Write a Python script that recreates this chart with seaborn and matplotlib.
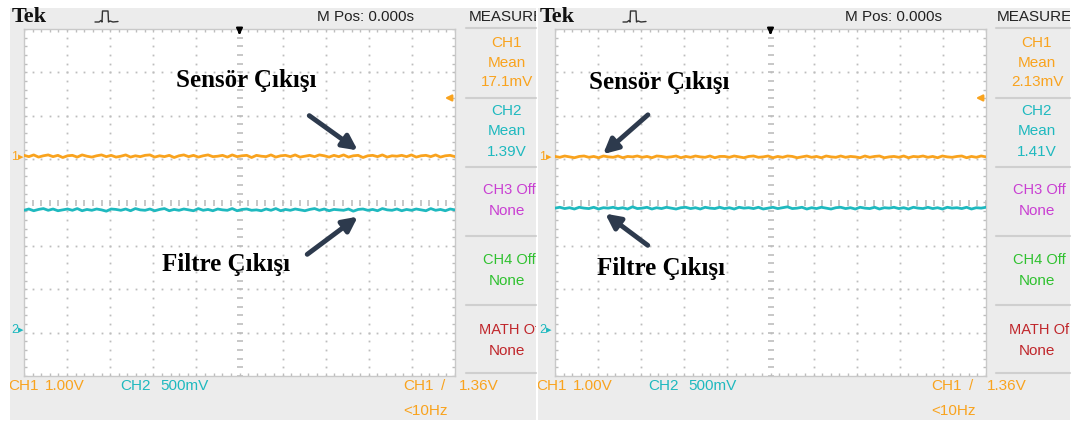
import numpy as np
import pandas as pd
import seaborn as sns
import matplotlib
matplotlib.use("Agg")
import matplotlib.pyplot as plt
from matplotlib import font_manager as fm
from matplotlib.patches import Rectangle, FancyArrowPatch
from matplotlib.lines import Line2D

# ---------------- data ----------------
ch1_mean_text = ["17.1mV", "2.13mV"]
ch2_mean_text = ["1.39V", "1.41V"]
ch1_mean_volts = [0.0171, 0.00213]
ch2_mean_volts = [1.39, 1.41]
ch1_scale_text = "1.00V"
ch2_scale_text = "500mV"
ch1_volts_per_div = 1.0
ch2_volts_per_div = 0.5
trigger_level_text = "1.36V"
trigger_level_volts = 1.36
trigger_freq_text = "<10Hz"
mpos_text = "M Pos: 0.000s"
ch1_ground_div = [1.05, 1.05]
ch2_ground_div = [-2.95, -2.95]
label_sensor = "Sensör Çıkışı"
label_filter = "Filtre Çıkışı"
side_labels = [("CH3 Off", "None"), ("CH4 Off", "None"), ("MATH Of", "None")]

# screen noise on each trace (divisions), read approximately from the screen
ch1_noise_left = [0.02, -0.01, 0.03, -0.02, 0.01, 0.03, -0.01, 0.02, -0.03, 0.01,
                  0.02, -0.02, 0.03, 0.00, -0.02, 0.01, 0.03, -0.01, 0.02, -0.02,
                  0.00, 0.03, -0.02, 0.01, -0.01, 0.02, 0.03, -0.02, 0.01, -0.01,
                  0.02, -0.03, 0.01, 0.03, -0.01, 0.02, -0.02, 0.01, 0.03, -0.01,
                  0.00, 0.02, -0.02, 0.03, -0.01, 0.01, 0.02, -0.03, 0.02, 0.00,
                  -0.01, 0.03, -0.02, 0.01, 0.02, -0.01, 0.03, -0.02, 0.00, 0.02,
                  -0.01, 0.03, 0.01, -0.02, 0.02, -0.01, 0.03, -0.02, 0.01, 0.02,
                  -0.03, 0.01, 0.02, -0.01, 0.03, -0.02, 0.01, 0.00, 0.02, -0.01,
                  0.03, -0.02, 0.01, 0.02, -0.01, 0.03, -0.02, 0.01, 0.02, -0.01]
ch2_noise_left = [-0.01, 0.02, -0.02, 0.01, 0.03, -0.01, 0.02, -0.02, 0.00, 0.02,
                  -0.01, 0.03, -0.02, 0.01, -0.01, 0.02, 0.00, -0.03, 0.02, 0.01,
                  -0.01, 0.02, -0.02, 0.03, 0.00, -0.01, 0.02, -0.02, 0.01, 0.03,
                  -0.02, 0.01, -0.01, 0.02, 0.00, -0.02, 0.03, -0.01, 0.01, -0.02,
                  0.02, 0.00, -0.01, 0.03, -0.02, 0.01, 0.02, -0.01, 0.00, -0.02,
                  0.02, -0.01, 0.03, -0.02, 0.01, -0.01, 0.02, 0.00, -0.02, 0.01,
                  0.03, -0.01, 0.02, -0.02, 0.01, 0.00, -0.01, 0.02, -0.03, 0.01,
                  0.02, -0.01, 0.01, -0.02, 0.03, 0.00, -0.01, 0.02, -0.02, 0.01,
                  -0.01, 0.02, 0.00, -0.02, 0.03, -0.01, 0.01, -0.02, 0.02, 0.00]
ch1_noise_right = [0.01, -0.01, 0.02, 0.00, -0.02, 0.01, 0.02, -0.01, 0.01, -0.02,
                   0.02, 0.00, -0.01, 0.02, -0.02, 0.01, 0.00, 0.02, -0.01, 0.01,
                   -0.02, 0.02, 0.01, -0.01, 0.00, 0.02, -0.02, 0.01, -0.01, 0.02,
                   0.00, -0.01, 0.02, -0.02, 0.01, 0.01, -0.01, 0.02, 0.00, -0.02,
                   0.01, 0.02, -0.01, 0.00, 0.02, -0.02, 0.01, -0.01, 0.02, 0.01,
                   -0.02, 0.00, 0.02, -0.01, 0.01, -0.02, 0.02, 0.00, -0.01, 0.02,
                   -0.01, 0.01, 0.00, -0.02, 0.02, -0.01, 0.01, 0.02, -0.02, 0.00,
                   0.01, -0.01, 0.02, -0.02, 0.01, 0.00, 0.02, -0.01, 0.01, -0.02,
                   0.02, 0.00, -0.01, 0.01, 0.02, -0.02, 0.01, -0.01, 0.02, 0.00]
ch2_noise_right = [0.00, 0.02, -0.01, 0.01, -0.02, 0.02, 0.00, -0.01, 0.02, -0.02,
                   0.01, 0.00, 0.02, -0.01, 0.01, -0.02, 0.03, -0.01, 0.00, 0.02,
                   -0.02, 0.01, -0.01, 0.02, 0.00, -0.02, 0.01, 0.02, -0.01, 0.01,
                   -0.02, 0.02, 0.00, -0.01, 0.02, -0.01, 0.01, -0.02, 0.02, 0.00,
                   0.01, -0.01, 0.02, -0.02, 0.00, 0.02, -0.01, 0.01, 0.03, -0.01,
                   0.00, 0.02, -0.02, 0.01, -0.01, 0.02, 0.00, -0.02, 0.01, 0.02,
                   -0.01, 0.01, -0.02, 0.02, 0.00, -0.01, 0.02, -0.02, 0.01, 0.00,
                   0.02, -0.01, 0.01, -0.02, 0.02, 0.00, -0.01, 0.02, -0.01, 0.01,
                   -0.02, 0.02, 0.00, 0.01, -0.01, 0.02, -0.02, 0.01, 0.00, 0.02]
ch1_noise = [ch1_noise_left, ch1_noise_right]
ch2_noise = [ch2_noise_left, ch2_noise_right]

# ---------------- style ----------------
W, H = 1076, 422
sns.set_theme(style="white")
names = {f.name for f in fm.fontManager.ttflist}
SANS = "Liberation Sans" if "Liberation Sans" in names else "DejaVu Sans"
SERIF = "Liberation Serif" if "Liberation Serif" in names else "DejaVu Serif"
plt.rcParams["font.family"] = [SANS, "DejaVu Sans"]

ORANGE = "#f9a31e"
CYAN = "#1fb9bf"
MAGENTA = "#c93fd2"
GREEN = "#2fc12f"
RED = "#c0262b"
PANEL_BG = "#ececec"
GRID = "#bdbdbd"
ARROW = "#2d3a4d"

fig = plt.figure(figsize=(W / 100, H / 100), dpi=100)
fig.patch.set_facecolor("white")


def fx(x):
    return x / W


def fy(y):
    return 1 - y / H


# panel geometry (pixels)
panel_left = [10, 538]
panel_right = [536, 1070]
plot_left = [24, 555]
plot_w = 431
plot_top, plot_bot = 29, 376
side_center = [507, 1037]
side_x0 = [466, 996]

for p in range(2):
    off = panel_left[p]
    bg = Rectangle((fx(panel_left[p]), fy(420)), fx(panel_right[p] - panel_left[p]), 412 / H,
                   transform=fig.transFigure, facecolor=PANEL_BG, edgecolor="none", zorder=-5)
    fig.patches.append(bg)
    clip = Rectangle((fx(panel_left[p]), 0), fx(panel_right[p] - panel_left[p]), 1,
                     transform=fig.transFigure, facecolor="none", edgecolor="none", zorder=-5)
    fig.patches.append(clip)

    def ftext(x, y, s, clip_it=True, **kw):
        t = fig.text(fx(x), fy(y), s, **kw)
        if clip_it:
            t.set_clip_path(clip)
        return t

    # ---- plot axes ----
    ax = fig.add_axes([fx(plot_left[p]), fy(plot_bot), plot_w / W, (plot_bot - plot_top) / H])
    ax.set_zorder(1)
    ax.set_facecolor("white")
    ax.set_xlim(0, 10)
    ax.set_ylim(-4, 4)
    ax.set_xticks([])
    ax.set_yticks([])
    for s in ax.spines.values():
        s.set_color("#c9c9c9")
        s.set_linewidth(1.0)

    minor_x = np.arange(0, 10.01, 0.2)
    minor_y = np.arange(-4, 4.01, 0.2)
    for gx in range(1, 10):
        if gx == 5:
            continue
        ax.plot(np.full_like(minor_y, gx), minor_y, ls="none", marker="s", ms=1.3,
                mec="none", color=GRID, zorder=1)
    for gy in range(-3, 4):
        if gy == 0:
            continue
        ax.plot(minor_x, np.full_like(minor_x, gy), ls="none", marker="s", ms=1.3,
                mec="none", color=GRID, zorder=1)
    ax.plot(np.full_like(minor_y, 5), minor_y, ls="none", marker="_", ms=4, mew=1.2,
            color=GRID, zorder=1)
    ax.plot(minor_x, np.zeros_like(minor_x), ls="none", marker="|", ms=4, mew=1.2,
            color=GRID, zorder=1)
    for yy in (4, -4):
        ax.plot(minor_x, np.full_like(minor_x, yy), ls="none", marker="|", ms=5, mew=1.0,
                color=GRID, zorder=1, clip_on=True)
    for xx in (0, 10):
        ax.plot(np.full_like(minor_y, xx), minor_y, ls="none", marker="_", ms=5, mew=1.0,
                color=GRID, zorder=1, clip_on=True)

    # ---- traces ----
    n1 = len(ch1_noise[p])
    t1 = np.linspace(0, 10, n1)
    y1 = ch1_ground_div[p] + ch1_mean_volts[p] / ch1_volts_per_div + np.array(ch1_noise[p])
    n2 = len(ch2_noise[p])
    t2 = np.linspace(0, 10, n2)
    y2 = ch2_ground_div[p] + ch2_mean_volts[p] / ch2_volts_per_div + np.array(ch2_noise[p])
    df = pd.DataFrame({"t": np.concatenate([t1, t2]), "v": np.concatenate([y1, y2]),
                       "ch": ["CH1"] * n1 + ["CH2"] * n2})
    sns.lineplot(data=df, x="t", y="v", hue="ch", palette={"CH1": ORANGE, "CH2": CYAN},
                 linewidth=2.0, legend=False, ax=ax, zorder=3)
    ax.set_xlabel("")
    ax.set_ylabel("")

    ax.annotate("", xy=(5, 3.8), xytext=(5, 4.02), xycoords="data",
                arrowprops=dict(arrowstyle="-|>", color="black", lw=1.5, mutation_scale=9),
                annotation_clip=False, zorder=5)
    trig_div = ch1_ground_div[p] + trigger_level_volts / ch1_volts_per_div
    ax.annotate("", xy=(9.7, trig_div), xytext=(9.97, trig_div), xycoords="data",
                arrowprops=dict(arrowstyle="-|>", color=ORANGE, lw=1.6, mutation_scale=9),
                annotation_clip=False, zorder=5)

    g1 = ax.transData.transform((0, ch1_ground_div[p]))
    g2 = ax.transData.transform((0, ch2_ground_div[p]))
    g1y = H - g1[1]
    g2y = H - g2[1]
    ftext(off + 1, g1y, "1", color=ORANGE, fontsize=9, va="center", ha="left")
    ftext(off + 8, g1y, "▸", color=ORANGE, fontsize=8, va="center", ha="left",
          family="DejaVu Sans")
    ftext(off + 1, g2y, "2", color=CYAN, fontsize=9, va="center", ha="left")
    ftext(off + 8, g2y, "▸", color=CYAN, fontsize=8, va="center", ha="left",
          family="DejaVu Sans")

    # ---- top bar ----
    ftext(off + 2, 17, "Tek", family=SERIF, fontweight="bold", fontsize=16, va="center",
          ha="left", color="#111111")
    xs_icon = [85, 89, 91, 92, 92.5, 98, 98.5, 100, 103, 108]
    ys_icon = [22, 22, 20.5, 22, 11, 11, 22, 21, 22, 21.5]
    fig.add_artist(Line2D([fx(off + x) for x in xs_icon], [fy(y) for y in ys_icon],
                          color="#333333", lw=1.0, transform=fig.transFigure))
    ftext(off + 307, 17, mpos_text, fontsize=11, va="center", ha="left", color="#222222")
    ftext(off + 459, 17, "MEASURE", fontsize=11, va="center", ha="left", color="#222222")

    # ---- side measurement column ----
    for yy in (28, 98, 167, 236, 305, 373):
        fig.add_artist(Line2D([fx(side_x0[p]), fx(panel_right[p])], [fy(yy), fy(yy)],
                              color="#cfcfcf", lw=1.5, transform=fig.transFigure))
    sc = side_center[p]
    kw = dict(fontsize=11, va="center", ha="center")
    ftext(sc, 43, "CH1", color=ORANGE, **kw)
    ftext(sc, 63, "Mean", color=ORANGE, **kw)
    ftext(sc, 82, ch1_mean_text[p], color=ORANGE, **kw)
    ftext(sc, 111, "CH2", color=CYAN, **kw)
    ftext(sc, 131, "Mean", color=CYAN, **kw)
    ftext(sc, 152, ch2_mean_text[p], color=CYAN, **kw)
    for (a, b), yy, col in zip(side_labels, (190, 260, 330), (MAGENTA, GREEN, RED)):
        ftext(sc + 2, yy, a, color=col, fontsize=10.5, va="center", ha="center")
        ftext(sc, yy + 21, b, color=col, **kw)

    # ---- bottom status line ----
    ftext(off - 2, 386, "CH1", color=ORANGE, fontsize=11, va="center", ha="left")
    ftext(off + 35, 386, ch1_scale_text, color=ORANGE, fontsize=11, va="center", ha="left")
    ftext(off + 110, 386, "CH2", color=CYAN, fontsize=11, va="center", ha="left")
    ftext(off + 150, 386, ch2_scale_text, color=CYAN, fontsize=11, va="center", ha="left")
    ftext(off + 393, 386, "CH1", color=ORANGE, fontsize=11, va="center", ha="left")
    ftext(off + 431, 386, "/", color=ORANGE, fontsize=11, va="center", ha="left")
    ftext(off + 449, 386, trigger_level_text, color=ORANGE, fontsize=11, va="center", ha="left")
    ftext(off + 393, 411, trigger_freq_text, color=ORANGE, fontsize=11, va="center", ha="left")

# ---------------- annotations ----------------
ann_font = dict(family=SERIF, fontweight="bold", fontsize=18, color="black",
                ha="center", va="center")
texts = [(246, 80, label_sensor), (226, 265, label_filter),
         (659, 82, label_sensor), (661, 268, label_filter)]
for x, y, s in texts:
    fig.text(fx(x), fy(y), s, zorder=10, **ann_font)

arrows = [((307, 114), (360, 152)), ((305, 256), (360, 215)),
          ((650, 113), (601, 156)), ((650, 247), (603, 212))]
for (x0, y0), (x1, y1) in arrows:
    fig.add_artist(FancyArrowPatch(
        (fx(x0), fy(y0)), (fx(x1), fy(y1)), transform=fig.transFigure,
        arrowstyle="-|>", mutation_scale=22, lw=3.5, color=ARROW, zorder=10))

fig.savefig("out.png", dpi=100)
